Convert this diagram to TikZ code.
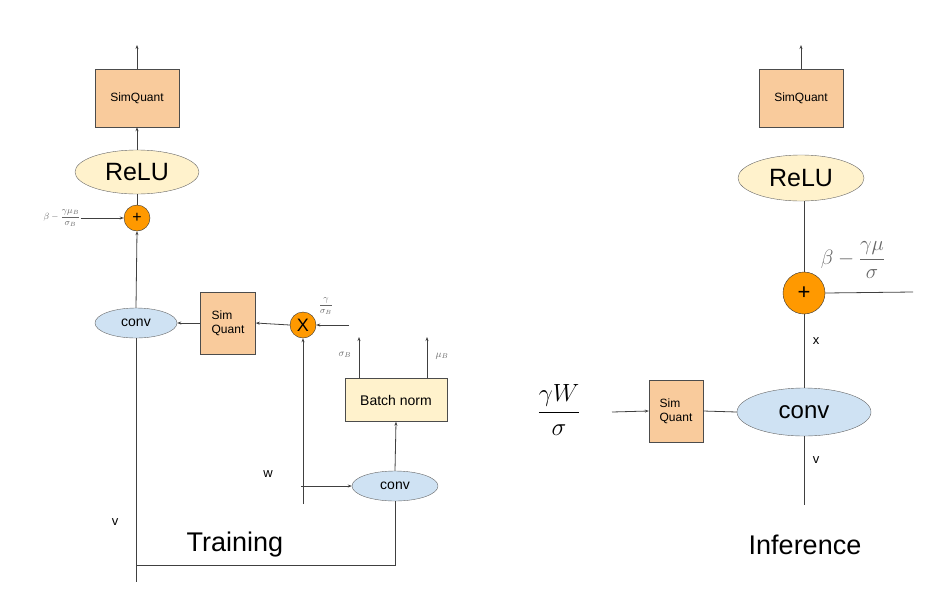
\documentclass[tikz,border=0pt]{standalone}
\usepackage{fontspec}
\setmainfont{Liberation Sans}
\usetikzlibrary{arrows.meta,shapes.geometric}
\begin{document}
\begin{tikzpicture}[x=1pt,y=-1pt,
 ln/.style={draw=black!75,line width=0.8pt},
 ar/.style={ln,-{Stealth[length=4pt,width=3pt]}},
 sq/.style={draw=black!70,fill=sqc,minimum width=#1,inner sep=0pt,align=left},
 cir/.style={circle,draw=black!80,fill=orc,inner sep=0pt},
 relu/.style={ellipse,draw=black!60,fill=ylc,inner sep=0pt},
 cv/.style={ellipse,draw=black!60,fill=blc,inner sep=0pt},
 mth/.style={text=black!60,inner sep=0pt}]
\definecolor{sqc}{HTML}{F9CB9C}
\definecolor{orc}{HTML}{FF9900}
\definecolor{ylc}{HTML}{FFF2CC}
\definecolor{blc}{HTML}{CFE2F3}
\useasboundingbox (0,0) rectangle (932,606);
% ---------- training ----------
\node[sq=84pt,minimum height=58pt,font=\fontsize{12}{14}\selectfont] (sq1) at (137,98) {SimQuant};
\coordinate (o1) at (137,45);
\draw[ar] (sq1.north) -- (o1);
\node[relu,minimum width=124pt,minimum height=44pt,font=\fontsize{25}{28}\selectfont] (relu1) at (137,172) {ReLU};
\draw[ar] (relu1.north) -- (sq1.south);
\node[cir,minimum size=26pt,font=\fontsize{16}{16}\selectfont] (p1) at (137,218) {+};
\draw[ln] (p1.north) -- (relu1.south);
\node[mth,font=\fontsize{9}{11}\selectfont] (bl) at (62,218) {$\displaystyle\beta-\frac{\gamma\mu_B}{\sigma_B}$};
\draw[ar] (bl.east) -- (p1.west);
\node[cv,minimum width=82pt,minimum height=30pt,font=\fontsize{14}{16}\selectfont] (c1) at (136,323) {conv};
\draw[ar] (c1.north) -- (p1.south);
\node[sq=55pt,minimum height=62pt,font=\fontsize{12}{14}\selectfont] (sq2) at (228,323) {Sim\\Quant};
\draw[ar] (sq2.west) -- (c1.east);
\node[cir,minimum size=26pt,font=\fontsize{18}{18}\selectfont] (x1) at (303,325) {X};
\draw[ar] (x1.west) -- (sq2.east);
\coordinate (gi) at (349,325);
\draw[ar] (gi) -- (x1.east);
\node[mth,font=\fontsize{9}{11}\selectfont] at (326,306) {$\displaystyle\frac{\gamma}{\sigma_B}$};
\coordinate (wb) at (303,504);
\draw[ar] (wb) -- (x1.south);
\node[font=\fontsize{13}{15}\selectfont] at (268,474) {w};
\node[cv,minimum width=86pt,minimum height=30pt,font=\fontsize{14}{16}\selectfont] (c2) at (395,486) {conv};
\coordinate (wl) at (301,486);
\draw[ar] (wl) -- (c2.west);
\node[draw=black!70,fill=ylc,minimum width=102pt,minimum height=43pt,inner sep=0pt,font=\fontsize{14}{16}\selectfont] (bn) at (396,400) {Batch norm};
\draw[ar] (c2.north) -- (bn.south);
\coordinate (s1) at (359,337); \coordinate (m1) at (427,337);
\draw[ar] (bn.north -| s1) -- (s1);
\draw[ar] (bn.north -| m1) -- (m1);
\node[mth,font=\fontsize{10}{12}\selectfont] at (345,355) {$\sigma_B$};
\node[mth,font=\fontsize{10}{12}\selectfont] at (442,356) {$\mu_B$};
\coordinate (cr) at (395,565); \coordinate (cl) at (136,565); \coordinate (vb) at (136,582);
\draw[ln] (c2.south) -- (cr) -- (cl);
\draw[ln] (c1.south) -- (vb);
\node[font=\fontsize{13}{15}\selectfont] at (115,522) {v};
\node[font=\fontsize{27}{30}\selectfont] at (235,545) {Training};
% ---------- inference ----------
\node[sq=84pt,minimum height=58pt,font=\fontsize{12}{14}\selectfont] (sq3) at (801,98) {SimQuant};
\coordinate (o2) at (801,45);
\draw[ar] (sq3.north) -- (o2);
\node[relu,minimum width=126pt,minimum height=46pt,font=\fontsize{25}{28}\selectfont] (relu2) at (801,178) {ReLU};
\node[cir,minimum size=42pt,font=\fontsize{22}{22}\selectfont] (p2) at (804,293) {+};
\draw[ln] (relu2.south -| p2) -- (p2.north);
\coordinate (br) at (913,292);
\draw[ln] (p2.east) -- (br);
\node[mth,font=\fontsize{20}{24}\selectfont] at (853,260) {$\displaystyle\beta-\frac{\gamma\mu}{\sigma}$};
\node[font=\fontsize{13}{15}\selectfont] at (816,341) {x};
\node[cv,minimum width=134pt,minimum height=48pt,font=\fontsize{24}{28}\selectfont] (c3) at (804,412) {conv};
\draw[ln] (p2.south) -- (c3.north);
\node[sq=54pt,minimum height=62pt,font=\fontsize{12}{14}\selectfont] (sq4) at (676,411) {Sim\\Quant};
\draw[ln] (sq4.east) -- (c3.west);
\coordinate (gw) at (612,412);
\draw[ar] (gw) -- (sq4.west);
\node[font=\fontsize{24}{28}\selectfont,inner sep=0pt] at (559,410) {$\displaystyle\frac{\gamma W}{\sigma}$};
\coordinate (vb2) at (804,505);
\draw[ln] (c3.south) -- (vb2);
\node[font=\fontsize{13}{15}\selectfont] at (816,460) {v};
\node[font=\fontsize{27}{30}\selectfont] at (805,545) {Inference};
\end{tikzpicture}
\end{document}
